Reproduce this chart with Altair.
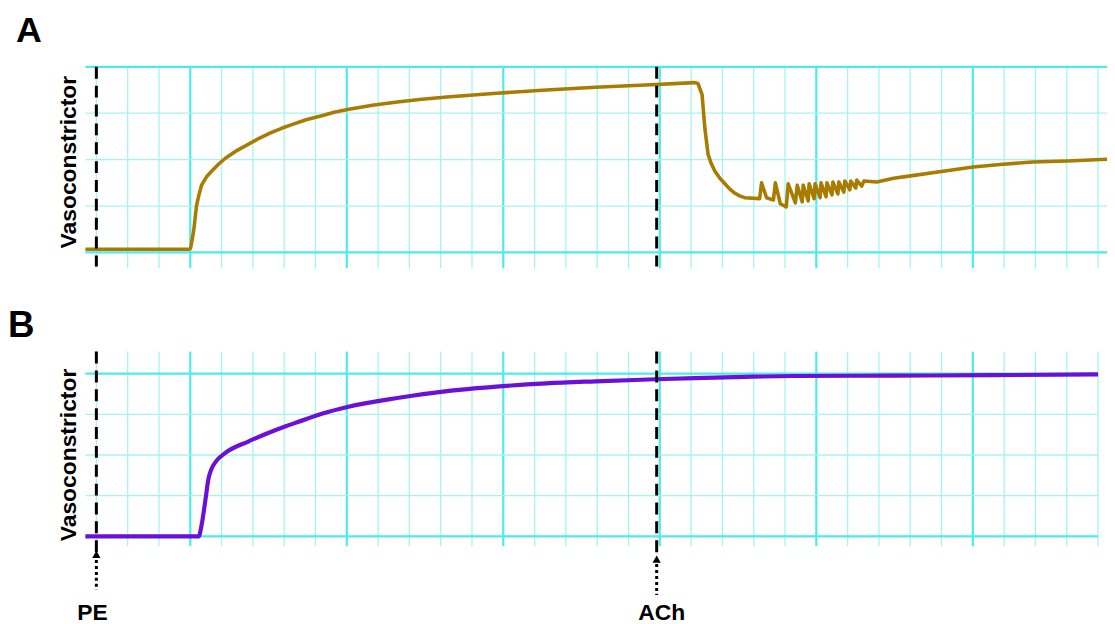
import altair as alt
import pandas as pd

# ---- data (x in grid divisions after PE, y in grid divisions of tension) ----
a_t = [-0.35, 2.95, 3.01, 3.11, 3.20, 3.27, 3.36, 3.52, 3.68, 3.90, 4.12, 4.50, 4.85,
       5.20, 5.58, 5.90, 6.22, 6.70, 7.23, 7.60, 8.02, 8.82, 9.61, 10.40, 11.20, 12.78,
       14.37, 15.95, 17.54, 19.12, 19.22, 19.35,
       19.44, 19.54, 19.64, 19.76, 19.92, 20.08, 20.23, 20.39, 20.55, 20.71, 21.19, 21.25,
       21.41, 21.63, 21.69, 21.85,
       22.04, 22.10, 22.33, 22.39, 22.55, 22.58, 22.74, 22.77, 22.93, 22.96, 23.12, 23.15,
       23.31, 23.34, 23.50, 23.53, 23.69, 23.72, 23.88, 23.91, 24.07, 24.10, 24.26, 24.29,
       24.45, 24.52, 24.93, 25.47, 26.01, 27.05, 28.01, 28.96, 29.91, 31.02, 32.29]
a_v = [0.07, 0.07, 0.09, 0.47, 1.01, 1.22, 1.45, 1.63, 1.75, 1.90, 2.03, 2.20, 2.33,
       2.46, 2.58, 2.67, 2.75, 2.86, 2.95, 3.02, 3.08, 3.17, 3.24, 3.30, 3.35, 3.43,
       3.50, 3.56, 3.61, 3.66, 3.64, 3.40,
       2.67, 2.12, 1.92, 1.75, 1.60, 1.48, 1.37, 1.28, 1.22, 1.18, 1.16, 1.50,
       1.18, 1.13, 1.50, 1.05,
       0.98, 1.48, 1.07, 1.45, 1.09, 1.45, 1.11, 1.48, 1.16, 1.48, 1.18, 1.50,
       1.20, 1.50, 1.24, 1.52, 1.26, 1.52, 1.30, 1.54, 1.35, 1.54, 1.39, 1.56,
       1.43, 1.54, 1.52, 1.60, 1.65, 1.75, 1.84, 1.90, 1.95, 1.97, 2.01]

b_t = [-0.35, 3.27, 3.36, 3.49, 3.58, 3.68, 3.81, 4.12, 4.85, 5.39, 6.03, 6.44, 7.23,
       8.02, 9.61, 11.20, 12.78, 14.37, 15.95, 17.86, 19.12, 20.71, 22.30, 25.47, 28.64,
       32.00]
b_v = [0.00, 0.00, 0.27, 0.93, 1.41, 1.66, 1.83, 2.05, 2.33, 2.51, 2.70, 2.81, 3.02,
       3.18, 3.40, 3.57, 3.68, 3.76, 3.81, 3.86, 3.89, 3.92, 3.94, 3.95, 3.96,
       3.98]

assert len(a_t) == len(a_v) and len(b_t) == len(b_v)

grid_t = list(range(33))
grid_kind = ["major" if (i - 3) % 5 == 0 else "minor" for i in grid_t]
grid_v = [0, 1, 2, 3, 4]
grid_v_kind = ["major", "minor", "minor", "minor", "major"]

events = ["PE", "ACh"]
event_t = [0.0, 17.9]

# ---- styling ----
GOLD = "#a87c00"
PURPLE = "#6b10d8"
MINOR = "#a4f4f4"
MAJOR = "#4feaea"
FONT = "Liberation Sans"

xs = alt.Scale(domain=[-2.823, 32.286], nice=False, zero=False)
ysA = alt.Scale(domain=[0, 4], range=[244, 57], nice=False, zero=False)
ysB = alt.Scale(domain=[0, 4], range=[530, 366], nice=False, zero=False)
kind_color = alt.Scale(domain=["minor", "major"], range=[MINOR, MAJOR])
kind_width = alt.Scale(domain=["minor", "major"], range=[1.3, 2.2])

df_a = pd.DataFrame({"t": a_t, "v": a_v, "i": range(len(a_t))})
df_b = pd.DataFrame({"t": b_t, "v": b_v, "i": range(len(b_t))})
df_vg = pd.DataFrame({"t": grid_t, "kind": grid_kind})
df_hg = pd.DataFrame({"v": grid_v, "kind": grid_v_kind})
df_ev = pd.DataFrame({"event": events, "t": event_t})


def vgrid(yscale, top, bottom):
    d = df_vg.assign(y1=top, y2=bottom)
    return alt.Chart(d).mark_rule().encode(
        x=alt.X("t:Q", scale=xs, axis=None),
        y=alt.Y("y1:Q", scale=yscale, axis=None),
        y2="y2:Q",
        color=alt.Color("kind:N", scale=kind_color, legend=None),
        strokeWidth=alt.StrokeWidth("kind:N", scale=kind_width, legend=None),
        order=alt.Order("kind:N", sort="descending"),
    )


def hgrid(yscale, left, right):
    d = df_hg.assign(x1=left, x2=right)
    return alt.Chart(d).mark_rule().encode(
        x=alt.X("x1:Q", scale=xs, axis=None),
        x2="x2:Q",
        y=alt.Y("v:Q", scale=yscale, axis=None),
        color=alt.Color("kind:N", scale=kind_color, legend=None),
        strokeWidth=alt.StrokeWidth("kind:N", scale=kind_width, legend=None),
    )


def trace(df, yscale, color, width, interp):
    return alt.Chart(df).mark_line(
        color=color, strokeWidth=width, strokeJoin="round", interpolate=interp
    ).encode(
        x=alt.X("t:Q", scale=xs, axis=None),
        y=alt.Y("v:Q", scale=yscale, axis=None),
        order="i:Q",
    )


def dashes(yscale, top, bottom):
    d = df_ev.assign(y1=top, y2=bottom)
    return alt.Chart(d).mark_rule(color="black", strokeWidth=3, strokeDash=[12, 7]).encode(
        x=alt.X("t:Q", scale=xs, axis=None),
        y=alt.Y("y1:Q", scale=yscale, axis=None),
        y2="y2:Q",
    )


def ytitle(ypix):
    return alt.Chart(pd.DataFrame({"lab": ["Vasoconstrictor"]})).mark_text(
        angle=270, font=FONT, fontWeight="bold", fontSize=23, align="center",
        baseline="alphabetic", color="black"
    ).encode(x=alt.value(68), y=alt.value(ypix), text="lab:N")


def letter(txt, xpix, ypix, size, align):
    return alt.Chart(pd.DataFrame({"lab": [txt]})).mark_text(
        font=FONT, fontWeight="bold", fontSize=size, align=align,
        baseline="alphabetic", color="black"
    ).encode(x=alt.value(xpix), y=alt.value(ypix), text="lab:N")


# arrows below panel B
df_arrow = df_ev.assign(head=[-0.44, -0.56], top=[-0.58, -0.68], bottom=[-1.32, -1.44])
arrow_lines = alt.Chart(df_arrow).mark_rule(color="black", strokeWidth=3, strokeDash=[3, 3]).encode(
    x=alt.X("t:Q", scale=xs, axis=None),
    y=alt.Y("top:Q", scale=ysB, axis=None),
    y2="bottom:Q",
)
arrow_heads = alt.Chart(df_arrow).mark_point(
    shape="triangle-up", filled=True, color="black", size=70, opacity=1
).encode(
    x=alt.X("t:Q", scale=xs, axis=None),
    y=alt.Y("head:Q", scale=ysB, axis=None),
)

ev_pe = alt.Chart(df_ev[df_ev.event == "PE"]).mark_text(
    font=FONT, fontWeight="bold", fontSize=23, align="center", baseline="alphabetic",
    color="black", dx=-4
).encode(x=alt.X("t:Q", scale=xs, axis=None), y=alt.value(614), text="event:N")
ev_ach = alt.Chart(df_ev[df_ev.event == "ACh"]).mark_text(
    font=FONT, fontWeight="bold", fontSize=23, align="center", baseline="alphabetic",
    color="black", dx=5
).encode(x=alt.X("t:Q", scale=xs, axis=None), y=alt.value(614), text="event:N")

chart = alt.layer(
    vgrid(ysA, 4, -0.34),
    hgrid(ysA, -0.35, 32.6),
    trace(df_a, ysA, GOLD, 3.6, "linear"),
    dashes(ysA, 4, -0.3),
    vgrid(ysB, 4.54, -0.24),
    hgrid(ysB, -0.35, 32.0),
    trace(df_b, ysB, PURPLE, 4.2, "monotone"),
    dashes(ysB, 4.54, -0.4),
    arrow_lines,
    arrow_heads,
    ev_pe,
    ev_ach,
    ytitle(153),
    ytitle(448),
    letter("A", 21, 32, 36, "center"),
    letter("B", 0, 329, 37, "left"),
).resolve_scale(y="independent").properties(
    width=1107, height=616, padding=0, autosize=alt.AutoSizeParams(type="none")
).configure_view(stroke=None)

chart.save("out.html", embed_options={"renderer": "svg", "actions": False})
